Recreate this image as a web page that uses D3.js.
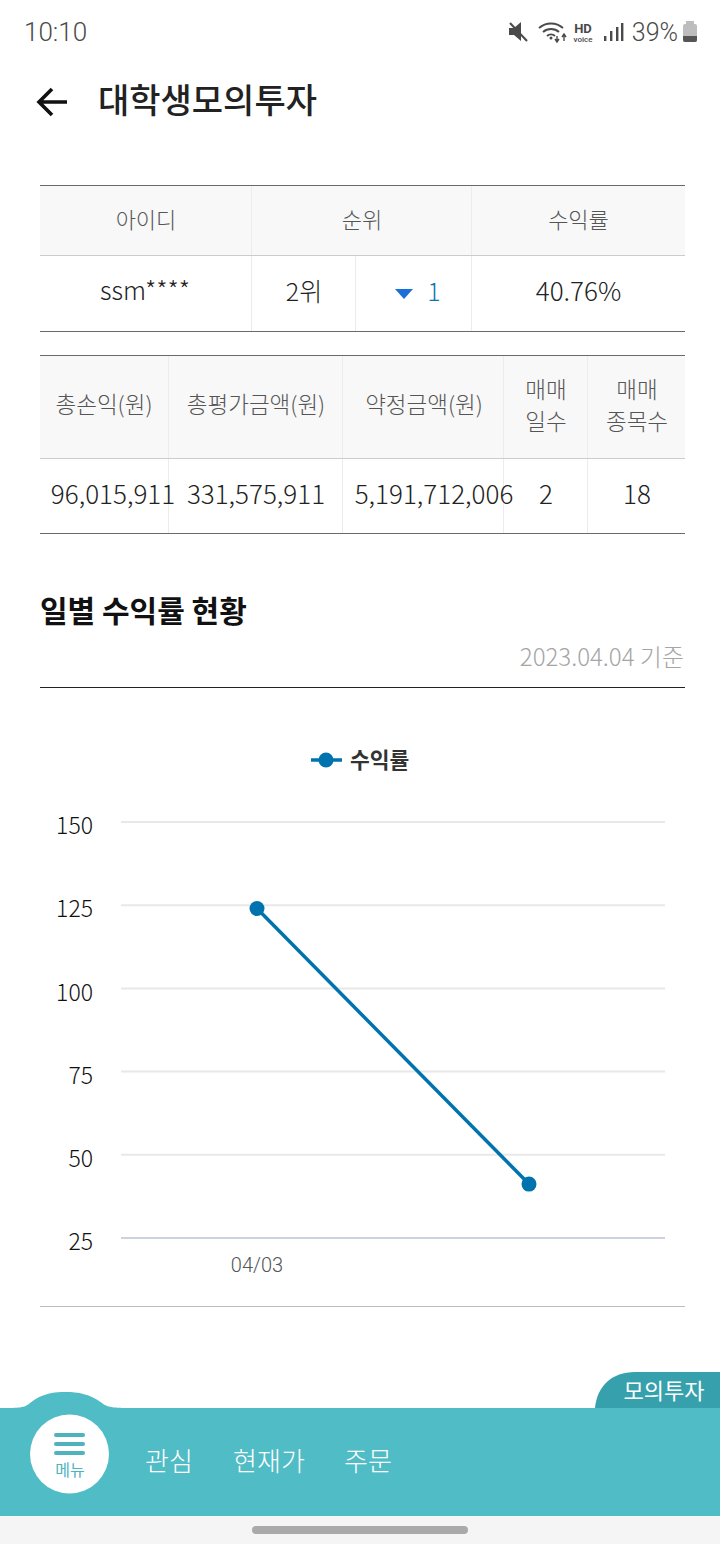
<!DOCTYPE html>
<html>
<head>
<meta charset="utf-8">
<script src="https://cdnjs.cloudflare.com/ajax/libs/d3/7.8.5/d3.min.js"></script>
<style>
body { margin: 0; background: #fff; }
svg { display: block; }
text { font-family: "Noto Sans CJK KR", "Noto Sans", sans-serif; }
</style>
</head>
<body>
<svg id="canvas" width="720" height="1544" viewBox="0 0 720 1544"></svg>
<script>
// chart data
var categories = ["04/03", "04/04"];
var returnRates = [124, 41.2];
var yTicks = [25, 50, 75, 100, 125, 150];
var xTickLabels = ["04/03"];
var seriesName = "수익률";

// summary tables
var table1Head = ["아이디", "순위", "수익률"];
var table1Row = ["ssm****", "2위", "1", "40.76%"];
var table2Head = [["총손익(원)"], ["총평가금액(원)"], ["약정금액(원)"], ["매매", "일수"], ["매매", "종목수"]];
var table2Row = ["96,015,911", "331,575,911", "5,191,712,006", "2", "18"];
var navItems = ["관심", "현재가", "주문"];

var svg = d3.select("#canvas");

function label(x, y, str, size, color, anchor, weight, font) {
    var t = svg.append("text")
        .attr("x", x).attr("y", y)
        .attr("font-size", size)
        .attr("fill", color)
        .attr("text-anchor", anchor || "middle")
        .attr("font-weight", weight || 300)
        .text(str);
    if (font) t.style("font-family", font);
    return t;
}
function rule(x1, y1, x2, y2, color, w) {
    svg.append("line").attr("x1", x1).attr("y1", y1).attr("x2", x2).attr("y2", y2)
        .attr("stroke", color).attr("stroke-width", w || 1);
}

// status bar
label(24, 41, "10:10", 26, "#4a4a4a", "start", 300, "Roboto");
label(678, 41, "39%", 25, "#4a4a4a", "end", 300, "Roboto");
svg.append("path").attr("d", "M509 28h5l7-6v19l-7-6h-5z").attr("fill", "#4a4a4a");
rule(510, 23, 527, 41, "#4a4a4a", 2);
svg.append("path").attr("d", "M539 28a18 18 0 0 1 24 0M543 32a12 12 0 0 1 16 0M547 36a6 6 0 0 1 8 0")
    .attr("fill", "none").attr("stroke", "#4a4a4a").attr("stroke-width", 2);
svg.append("circle").attr("cx", 551).attr("cy", 38).attr("r", 1.5).attr("fill", "#4a4a4a");
svg.append("path").attr("d", "M557 36v6M555 39l2 3 2-3M564 41v-7M562 37l2-3 2 3")
    .attr("fill", "none").attr("stroke", "#4a4a4a").attr("stroke-width", 1.4);
label(583, 33, "HD", 13, "#4a4a4a", "middle", 700, "Roboto");
label(583, 42, "voice", 8, "#4a4a4a", "middle", 500, "Roboto");
[[604, 36], [610, 31], [616, 27], [621, 23]].forEach(function (b) {
    svg.append("rect").attr("x", b[0]).attr("y", b[1]).attr("width", 2.4).attr("height", 41 - b[1]).attr("fill", "#4a4a4a");
});
svg.append("rect").attr("x", 683).attr("y", 24).attr("width", 14).attr("height", 18).attr("rx", 2).attr("fill", "#bdbdbd");
svg.append("rect").attr("x", 686).attr("y", 21).attr("width", 8).attr("height", 4).attr("fill", "#bdbdbd");
svg.append("path").attr("d", "M683 36h14v4a2 2 0 0 1-2 2h-10a2 2 0 0 1-2-2z").attr("fill", "#555");

// title bar
svg.append("path").attr("d", "M67 102H40M52 89L39 102L52 115")
    .attr("fill", "none").attr("stroke", "#111").attr("stroke-width", 3.6);
label(98, 113, "대학생모의투자", 34, "#222", "start", 500);

// table 1
var t1Cols = [40, 252, 472, 685];
svg.append("rect").attr("x", 40).attr("y", 185).attr("width", 645).attr("height", 70).attr("fill", "#f8f8f8");
t1Cols.slice(1, 3).forEach(function (x) { rule(x - 0.5, 185, x - 0.5, 331, "#ececec"); });
rule(355.5, 256, 355.5, 331, "#ececec");
table1Head.forEach(function (h, i) {
    label((t1Cols[i] + t1Cols[i + 1]) / 2, 228, h, 22, "#555");
});
rule(40, 185.5, 685, 185.5, "#6a6a6a");
rule(40, 255.5, 685, 255.5, "#ccc");
rule(40, 331.5, 685, 331.5, "#6a6a6a");
label(145, 300, table1Row[0], 25.5, "#222");
label(304, 301, table1Row[1], 25, "#222");
svg.append("path").attr("d", "M395 289h18l-9 10z").attr("fill", "#1a6fd8");
label(434, 301, table1Row[2], 25, "#0b76b0");
label(578.5, 301, table1Row[3], 26, "#222");

// table 2
var t2Cols = [40, 169, 343, 504, 588, 685];
var t2Mid = [104, 256, 424, 546, 637];
var t2ValueMid = [113, 256, 434, 546, 637];
svg.append("rect").attr("x", 40).attr("y", 355).attr("width", 645).attr("height", 103).attr("fill", "#f8f8f8");
t2Cols.slice(1, 5).forEach(function (x) { rule(x - 0.5, 355, x - 0.5, 533, "#ececec"); });
table2Head.forEach(function (lines, i) {
    if (lines.length === 1) {
        label(t2Mid[i], 413, lines[0], 22.5, "#555");
    } else {
        label(t2Mid[i], 398, lines[0], 22.5, "#555");
        label(t2Mid[i], 430, lines[1], 22.5, "#555");
    }
});
rule(40, 355.5, 685, 355.5, "#6a6a6a");
rule(40, 458.5, 685, 458.5, "#ccc");
rule(40, 533.5, 685, 533.5, "#6a6a6a");
table2Row.forEach(function (v, i) {
    label(t2ValueMid[i], 504, v, 26, "#222");
});

// section heading
label(40, 622, "일별 수익률 현황", 30, "#111", "start", 700);
label(684, 666, "2023.04.04 기준", 24, "#a5a5a5", "end", 300);
rule(40, 687.5, 685, 687.5, "#222");

// chart
var x = d3.scaleBand().domain(categories).range([121, 665]);
var y = d3.scaleLinear().domain([25, 150]).range([1238, 822]);

var yAxis = d3.axisLeft(y).tickValues(yTicks).tickSize(0).tickPadding(28);
var gy = svg.append("g").attr("transform", "translate(121,0)").call(yAxis);
gy.select(".domain").remove();
gy.selectAll("text")
    .attr("font-size", 23).attr("font-weight", 300).attr("fill", "#111")
    .attr("dy", "0.55em").attr("transform", "translate(0,-1)")
    .style("font-family", '"Noto Sans CJK KR"');

svg.append("g").selectAll("line").data(yTicks).enter().append("line")
    .attr("x1", 121).attr("x2", 665)
    .attr("y1", function (d) { return y(d); })
    .attr("y2", function (d) { return y(d); })
    .attr("stroke", function (d) { return d === 25 ? "#ccd3de" : "#e8e8e8"; })
    .attr("stroke-width", 2);

var xAxis = d3.axisBottom(x).tickValues(xTickLabels).tickSize(0).tickPadding(20);
var gx = svg.append("g").attr("transform", "translate(0,1238)").call(xAxis);
gx.select(".domain").remove();
gx.selectAll("text")
    .attr("font-size", 20).attr("font-weight", 300).attr("fill", "#555")
    .style("font-family", "Roboto");

var series = categories.map(function (c, i) { return { cat: c, val: returnRates[i] }; });
var line = d3.line()
    .x(function (d) { return x(d.cat) + x.bandwidth() / 2; })
    .y(function (d) { return y(d.val); });
svg.append("path").datum(series).attr("d", line)
    .attr("fill", "none").attr("stroke", "#0073ae").attr("stroke-width", 3.5);
svg.append("g").selectAll("circle").data(series).enter().append("circle")
    .attr("cx", function (d) { return x(d.cat) + x.bandwidth() / 2; })
    .attr("cy", function (d) { return y(d.val); })
    .attr("r", 7.5).attr("fill", "#0073ae");

// legend
rule(311, 760, 342, 760, "#0073ae", 3.5);
svg.append("circle").attr("cx", 326).attr("cy", 760).attr("r", 7.5).attr("fill", "#0073ae");
label(350, 768, seriesName, 21.5, "#333", "start", 700);

rule(40, 1306.5, 685, 1306.5, "#b9bdc4");

// bottom nav
svg.append("path")
    .attr("d", "M0 1408C20 1408 24 1408 30 1403C42 1393 55 1392 66 1392C78 1392 90 1394 102 1403C108 1408 116 1408 135 1408Z")
    .attr("fill", "#4fbcc6");
svg.append("path").attr("d", "M595 1408C597 1386 612 1372 635 1372H720V1408Z").attr("fill", "#36a1ac");
label(664, 1399, "모의투자", 22, "#fff", "middle", 400);
svg.append("rect").attr("x", 0).attr("y", 1408).attr("width", 720).attr("height", 108).attr("fill", "#4fbcc6");
svg.append("rect").attr("x", 0).attr("y", 1516).attr("width", 720).attr("height", 28).attr("fill", "#f5f5f5");
svg.append("rect").attr("x", 252).attr("y", 1526).attr("width", 216).attr("height", 8).attr("rx", 4).attr("fill", "#aaaaaa");
svg.append("circle").attr("cx", 69.5).attr("cy", 1454).attr("r", 39.5).attr("fill", "#fff");
[1435, 1444, 1453].forEach(function (yy) {
    svg.append("rect").attr("x", 54).attr("y", yy - 2).attr("width", 31).attr("height", 4).attr("rx", 2).attr("fill", "#4fb3bf");
});
label(70, 1476, "메뉴", 16, "#4fb3bf", "middle", 400);
[[169, navItems[0]], [269, navItems[1]], [368, navItems[2]]].forEach(function (n) {
    label(n[0], 1471, n[1], 26, "#fff", "middle", 300);
});
</script>
</body>
</html>
